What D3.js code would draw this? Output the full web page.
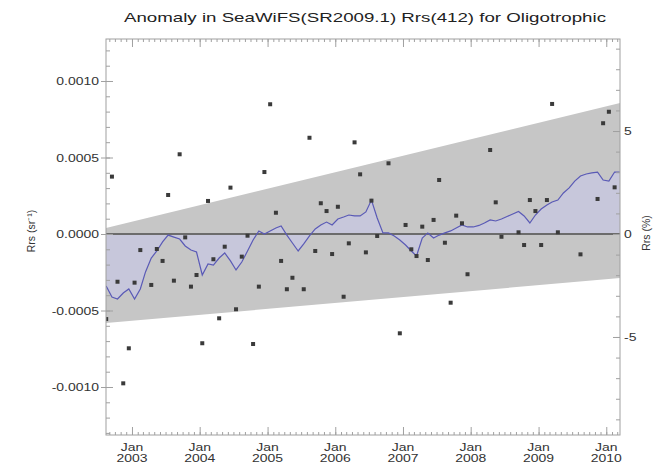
<!DOCTYPE html>
<html><head><meta charset="utf-8">
<script src="https://cdn.jsdelivr.net/npm/d3@7"></script>
<style>
body{margin:0;background:#fff}
svg{display:block}
text{font-family:"Liberation Sans",Arial,Helvetica,sans-serif}
</style>
</head><body>
<svg id="c" width="667" height="465"></svg>
<script>
// ---------------- DATA ----------------
const chartTitle = "Anomaly in SeaWiFS(SR2009.1) Rrs(412) for Oligotrophic";
const leftAxisLabel = "Rrs (sr\u207B\u00B9)";
const rightAxisLabel = "Rrs (%)";
const yTickValues = [-0.0010, -0.0005, 0, 0.0005, 0.0010];
const yTickLabels = ["-0.0010", "-0.0005", "0.0000", "0.0005", "0.0010"];
const pctTickValues = [-5, 0, 5];
const pctTickLabels = ["-5", "0", "5"];
const xTickYears = [2003, 2004, 2005, 2006, 2007, 2008, 2009, 2010];
const xTickMonthLabel = "Jan";
const meanRrs = 0.01346;            // mean Rrs(412) used for the % axis
const timeStart = "2002-08-14", timeEnd = "2010-03-16";
const yMin = -0.0013137, yMax = 0.0012745;

// monthly anomalies (points)
const monthlyDates = [
 "2002-08","2002-09","2002-10","2002-11","2002-12",
 "2003-01","2003-02","2003-04","2003-05","2003-06","2003-07","2003-08","2003-09","2003-10","2003-11","2003-12",
 "2004-01","2004-02","2004-03","2004-04","2004-05","2004-06","2004-07","2004-08","2004-09","2004-10","2004-11","2004-12",
 "2005-01","2005-02","2005-03","2005-04","2005-05","2005-07","2005-08","2005-09","2005-10","2005-11","2005-12",
 "2006-01","2006-02","2006-03","2006-04","2006-05","2006-06","2006-07","2006-08","2006-10","2006-12",
 "2007-01","2007-02","2007-03","2007-04","2007-05","2007-06","2007-07","2007-08","2007-09","2007-10","2007-11","2007-12",
 "2008-04","2008-05","2008-06","2008-09","2008-10","2008-11","2008-12",
 "2009-01","2009-02","2009-03","2009-04","2009-08","2009-11","2009-12",
 "2010-01","2010-02"];
const monthlyAnomaly = [
 -0.000556, 0.000375,-0.000312,-0.000976,-0.000747,
 -0.000318,-0.000105,-0.000333,-0.000098,-0.000176, 0.000255,-0.000305, 0.000521,-0.000022,-0.000344,-0.000268,
 -0.000714, 0.000216,-0.000165,-0.000551,-0.000083, 0.000303,-0.000492,-0.000148,-0.000011,-0.000719,-0.000344, 0.000405,
  0.000848, 0.000139,-0.000176,-0.000361,-0.000286,-0.000361, 0.000629,-0.000111, 0.000201, 0.000150,-0.000131,
  0.000178,-0.000410,-0.000061, 0.000599, 0.000390,-0.000120, 0.000218,-0.000013, 0.000462,-0.000649,
  0.000059,-0.000100,-0.000144, 0.000048,-0.000170, 0.000092, 0.000353,-0.000057,-0.000449, 0.000120, 0.000070,-0.000263,
  0.000549, 0.000207,-0.000018, 0.000011,-0.000072, 0.000222, 0.000150,
 -0.000072, 0.000222, 0.000850, 0.000011,-0.000133, 0.000229, 0.000724,
  0.000799, 0.000305];

// running mean (blue line), monthly from 2002-08 to 2010-03
const smoothStart = "2002-08", smoothEnd = "2010-03";
const smoothAnomaly = [
 -3.40e-4,-4.12e-4,-4.25e-4,-3.86e-4,-3.59e-4,-4.25e-4,-3.59e-4,-2.48e-4,-1.57e-4,-1.11e-4,
 -0.52e-4,-0.07e-4,-0.20e-4,-0.33e-4,-0.78e-4,-1.05e-4,-1.18e-4,-2.68e-4,-1.96e-4,-2.03e-4,
 -1.57e-4,-1.24e-4,-1.76e-4,-2.35e-4,-1.83e-4,-1.11e-4,-0.39e-4, 0.20e-4, 0.00e-4, 0.20e-4,
  0.39e-4, 0.52e-4,-0.07e-4,-0.59e-4,-1.11e-4,-0.65e-4,-0.13e-4, 0.33e-4, 0.59e-4, 0.78e-4,
  0.59e-4, 0.98e-4, 1.11e-4, 1.24e-4, 1.18e-4, 1.18e-4, 1.44e-4, 2.22e-4, 1.05e-4, 0.07e-4,
  0.07e-4,-0.13e-4,-0.39e-4,-0.72e-4,-1.11e-4,-1.44e-4,-0.26e-4, 0.07e-4,-0.26e-4,-0.07e-4,
  0.07e-4, 0.20e-4, 0.39e-4, 0.59e-4, 0.46e-4, 0.46e-4, 0.56e-4, 0.72e-4, 0.92e-4, 0.85e-4,
  0.98e-4, 1.14e-4, 1.31e-4, 1.47e-4, 1.18e-4, 0.72e-4, 1.24e-4, 1.63e-4, 1.90e-4, 2.09e-4,
  2.22e-4, 2.68e-4, 3.01e-4, 3.46e-4, 3.79e-4, 3.92e-4, 3.99e-4, 4.05e-4, 3.53e-4, 3.46e-4,
  4.05e-4, 4.05e-4];

// trend envelope (grey band)
const trendDates = ["2002-08-14", "2010-03-16"];
const trendUpper = [0.000039, 0.000856];
const trendLower = [-0.000582, -0.000288];

// ---------------- DRAW ----------------
const L = 106, R = 620, T = 39, B = 435;
const svg = d3.select("#c");
const pDay = d3.timeParse("%Y-%m-%d");
const pMon = s => { const d = d3.timeParse("%Y-%m")(s); d.setDate(15); return d; };

const x = d3.scaleTime().domain([pDay(timeStart), pDay(timeEnd)]).range([L, R]);
const y = d3.scaleLinear().domain([yMin, yMax]).range([B, T]);
const yPct = d3.scaleLinear().domain([yMin / meanRrs * 100, yMax / meanRrs * 100]).range([B, T]);

svg.append("defs").append("clipPath").attr("id", "pc")
  .append("rect").attr("x", L).attr("y", T).attr("width", R - L).attr("height", B - T);
const plot = svg.append("g").attr("clip-path", "url(#pc)");

// grey trend band
const band = trendDates.map((d, i) => ({ d: pDay(d), lo: trendLower[i], hi: trendUpper[i] }));
plot.append("path").datum(band)
  .attr("d", d3.area().x(d => x(d.d)).y0(d => y(d.lo)).y1(d => y(d.hi)))
  .attr("fill", "#c6c6c6");

// smoothed series
const sDates = d3.timeMonth.range(d3.timeParse("%Y-%m")(smoothStart), d3.timeMonth.offset(d3.timeParse("%Y-%m")(smoothEnd), 1))
  .map(d => { const c = new Date(d); c.setDate(15); return c; });
const smooth = sDates.map((d, i) => ({ d, v: smoothAnomaly[i] }));

plot.append("path").datum(smooth)
  .attr("d", d3.area().x(d => x(d.d)).y0(y(0)).y1(d => y(d.v)))
  .attr("fill", "#c8c8f4").attr("fill-opacity", 0.45);

// zero line
plot.append("line").attr("x1", L).attr("x2", R).attr("y1", y(0)).attr("y2", y(0))
  .attr("stroke", "#6c6c6c").attr("stroke-width", 2);

plot.append("path").datum(smooth)
  .attr("d", d3.line().x(d => x(d.d)).y(d => y(d.v)))
  .attr("fill", "none").attr("stroke", "#5a5ab6").attr("stroke-width", 1.2);

// monthly points
const pts = monthlyDates.map((d, i) => ({ d: pMon(d), v: monthlyAnomaly[i] }));
plot.selectAll("rect.pt").data(pts).join("rect").attr("class", "pt")
  .attr("x", d => x(d.d) - 2).attr("y", d => y(d.v) - 2)
  .attr("width", 4).attr("height", 4).attr("fill", "#3a3a3a");

// ---------------- AXES ----------------
const axisCol = "#a0a0a0";
function styleAxis(g) {
  g.select(".domain").remove();
  g.selectAll(".tick line").attr("stroke", axisCol);
  g.selectAll("text").remove();
}
// left axis
svg.append("g").attr("transform", `translate(${L},0)`)
  .call(d3.axisLeft(y).tickValues(yTickValues).tickSize(5)).call(styleAxis);
svg.append("g").attr("transform", `translate(${L},0)`)
  .call(d3.axisRight(y).tickValues(yTickValues).tickSize(7)).call(styleAxis);
svg.append("g").attr("transform", `translate(${L},0)`)
  .call(d3.axisRight(y).tickValues(d3.range(-13, 13).map(k => k * 0.0001)).tickSize(4)).call(styleAxis);
// right axis
svg.append("g").attr("transform", `translate(${R},0)`)
  .call(d3.axisLeft(yPct).tickValues(pctTickValues).tickSize(7)).call(styleAxis);
svg.append("g").attr("transform", `translate(${R},0)`)
  .call(d3.axisLeft(yPct).tickValues(d3.range(-9, 10)).tickSize(4)).call(styleAxis);
// bottom / top axes
const janDates = xTickYears.map(yr => new Date(yr, 0, 1));
const months = d3.timeMonth.range(x.domain()[0], x.domain()[1]);
svg.append("g").attr("transform", `translate(0,${B})`)
  .call(d3.axisTop(x).tickValues(janDates).tickSize(8)).call(styleAxis);
svg.append("g").attr("transform", `translate(0,${B})`)
  .call(d3.axisTop(x).tickValues(months).tickSize(3)).call(styleAxis);
svg.append("g").attr("transform", `translate(0,${T})`)
  .call(d3.axisBottom(x).tickValues(janDates).tickSize(8)).call(styleAxis);
svg.append("g").attr("transform", `translate(0,${T})`)
  .call(d3.axisBottom(x).tickValues(months).tickSize(3)).call(styleAxis);

// frame
svg.append("rect").attr("x", L).attr("y", T).attr("width", R - L).attr("height", B - T)
  .attr("fill", "none").attr("stroke", axisCol).attr("stroke-width", 1);

// ---------------- TEXT ----------------
const txtCol = "#333";
const sx = 1.33;
function stretchedText(px, py, str, anchor, size) {
  svg.append("g").attr("transform", `translate(${px},${py}) scale(${sx},1)`)
    .append("text").attr("text-anchor", anchor).attr("font-size", size)
    .attr("fill", txtCol).text(str);
}
yTickValues.forEach((v, i) => stretchedText(L - 7, y(v) + 4, yTickLabels[i], "end", 10.5));
pctTickValues.forEach((v, i) => stretchedText(R + 4, yPct(v) + 4, pctTickLabels[i], "start", 10.5));
janDates.forEach((d, i) => {
  stretchedText(x(d), 451, xTickMonthLabel, "middle", 10.5);
  stretchedText(x(d), 462, String(xTickYears[i]), "middle", 10.5);
});

svg.append("text").attr("x", 365).attr("y", 22).attr("text-anchor", "middle")
  .attr("font-size", 13).attr("fill", "#222")
  .attr("textLength", 482).attr("lengthAdjust", "spacingAndGlyphs").text(chartTitle);

svg.append("text").attr("transform", `translate(35,231) rotate(-90)`)
  .attr("text-anchor", "middle").attr("font-size", 10.5).attr("fill", txtCol).text(leftAxisLabel);
svg.append("text").attr("transform", `translate(650,233) rotate(-90)`)
  .attr("text-anchor", "middle").attr("font-size", 10.5).attr("fill", txtCol).text(rightAxisLabel);
</script>
</body></html>
